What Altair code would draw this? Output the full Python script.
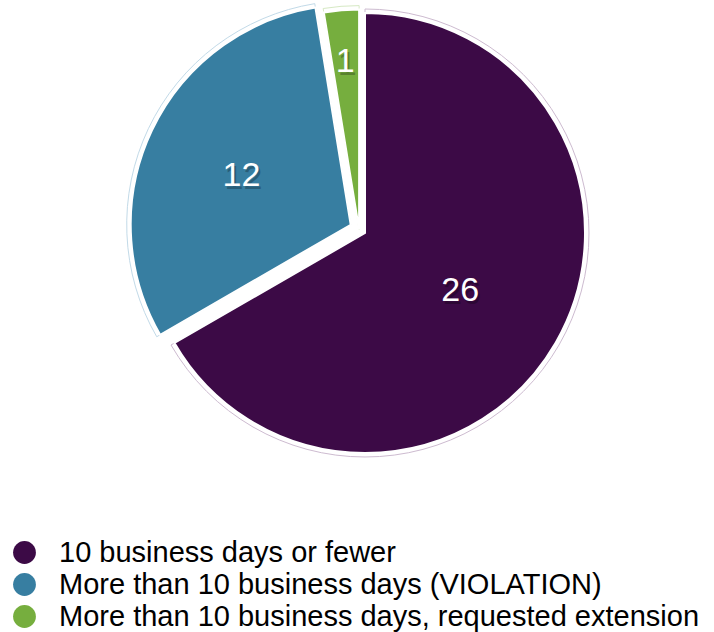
import altair as alt
import pandas as pd

categories = [
    "10 business days or fewer",
    "More than 10 business days (VIOLATION)",
    "More than 10 business days, requested extension",
]
values = [26, 12, 1]
order = [0, 1, 2]

colors = ["#3C0A46", "#377EA1", "#76AE3E"]
pale = ["#CDBBD0", "#C2DAE8", "#D6E9C4"]

df = pd.DataFrame({"category": categories, "value": values, "order": order})

W, H = 714, 632
CX, CY = 365, 233
R = 220

base = alt.Chart(df).transform_joinaggregate(
    total="sum(value)", big="max(value)"
).transform_window(
    cum="sum(value)", sort=[alt.SortField("order")]
).transform_calculate(
    frac="datum.value / datum.total",
    mid="(datum.cum - datum.value/2) / datum.total * 2 * PI",
    # explode the "more than 10 days" group along the group's middle angle
    dir="(datum.big + datum.total) / (2 * datum.total) * 2 * PI",
    ex="datum.order == 0 ? 0 : (datum.order == 1 ? 16.5 : 6.8)",
    cat2="datum.category",
).transform_calculate(
    dx="datum.ex * sin(datum.dir)",
    dy="datum.ex * cos(datum.dir)",
    lr=f"datum.frac < 0.05 ? {R*0.78} : (datum.frac > 0.5 ? {R*0.5} : {R*0.55})",
).transform_calculate(
    lx="datum.dx + datum.lr * sin(datum.mid)",
    ly="datum.dy + datum.lr * cos(datum.mid)",
)

xs = alt.Scale(domain=[-CX, W - CX], range=[0, W])
ys = alt.Scale(domain=[-(H - CY), CY])

theta = alt.Theta("value:Q", stack=True, sort=alt.SortField("order"))

outline = base.mark_arc(radius=R + 4, fill="white", strokeWidth=1).encode(
    x=alt.X("dx:Q", scale=xs, axis=None),
    y=alt.Y("dy:Q", scale=ys, axis=None),
    theta=theta,
    order=alt.Order("order:Q"),
    stroke=alt.Stroke("cat2:N", scale=alt.Scale(domain=categories, range=pale), legend=None),
)

slices = base.mark_arc(radius=R, stroke="white", strokeWidth=2).encode(
    x=alt.X("dx:Q", scale=xs, axis=None),
    y=alt.Y("dy:Q", scale=ys, axis=None),
    theta=theta,
    order=alt.Order("order:Q"),
    color=alt.Color(
        "category:N",
        scale=alt.Scale(domain=categories, range=colors),
        legend=alt.Legend(
            title=None,
            orient="none",
            legendX=10,
            legendY=538,
            symbolType="circle",
            symbolSize=520,
            symbolStrokeWidth=0,
            labelFontSize=29,
            labelFont="Liberation Sans",
            labelColor="black",
            labelLimit=800,
            rowPadding=2,
            labelOffset=20,
        ),
    ),
)

shadow = base.mark_text(
    font="Liberation Sans", fontSize=34, color="black", opacity=0.25,
    dx=2, dy=6, align="center", baseline="middle",
).encode(
    x=alt.X("lx:Q", scale=xs, axis=None),
    y=alt.Y("ly:Q", scale=ys, axis=None),
    text="value:Q",
)

labels = base.mark_text(
    font="Liberation Sans", fontSize=34, color="white",
    dy=3, align="center", baseline="middle",
).encode(
    x=alt.X("lx:Q", scale=xs, axis=None),
    y=alt.Y("ly:Q", scale=ys, axis=None),
    text="value:Q",
)

chart = alt.layer(outline, slices, shadow, labels).properties(
    width=W, height=H,
    autosize=alt.AutoSizeParams(type="none"),
    padding=0,
).resolve_scale(stroke="independent").configure_view(stroke=None)

chart.save("out.html", embed_options={"renderer": "svg", "actions": False})
